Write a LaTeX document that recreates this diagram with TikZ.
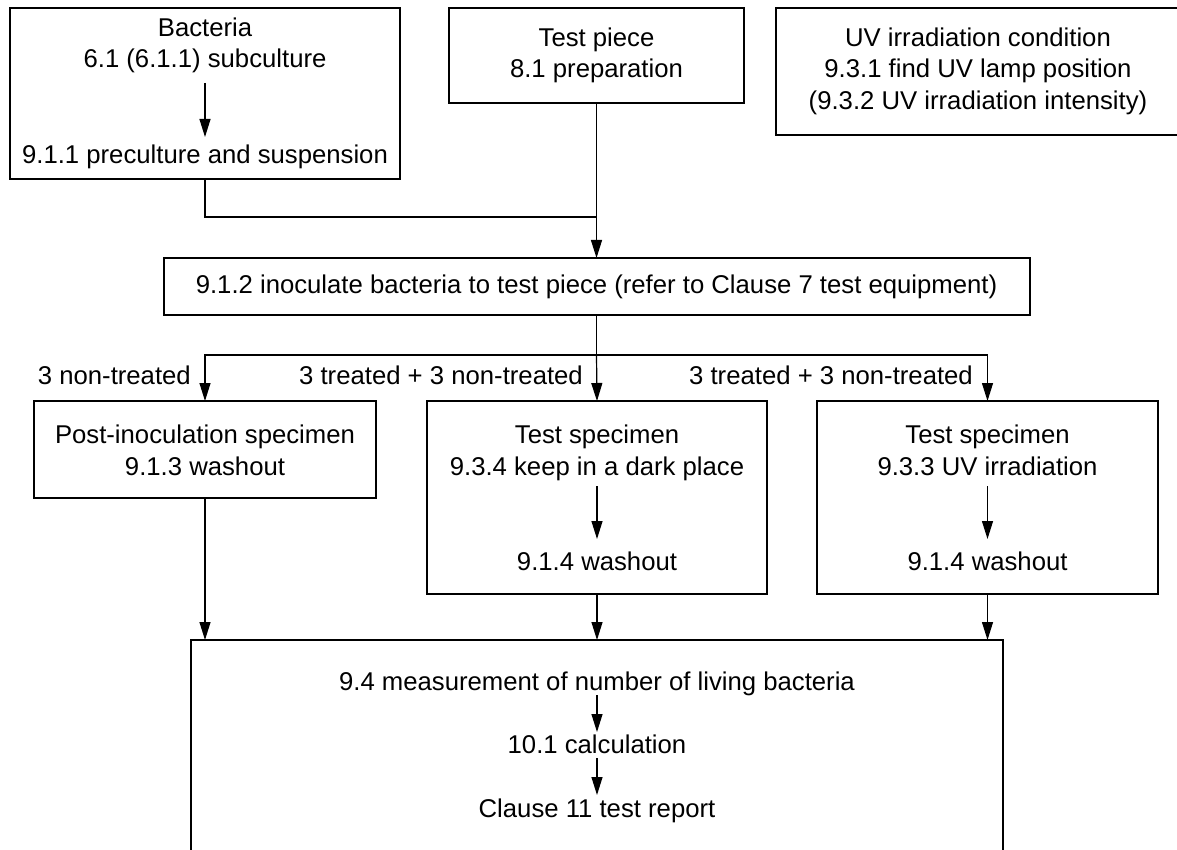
\documentclass[tikz,border=0pt]{standalone}
\usepackage{fontspec}
\setmainfont{Liberation Sans}
\usetikzlibrary{arrows.meta}
\begin{document}
\begin{tikzpicture}[x=1pt,y=-1pt,
  box/.style={draw=black,line width=2pt,inner sep=0pt,outer sep=0pt},
  txt/.style={inner sep=0pt,anchor=base,font=\fontsize{25.7}{31}\selectfont},
  lbl/.style={inner sep=0pt,anchor=base east,font=\fontsize{25.7}{31}\selectfont},
  conn/.style={line width=1.2pt,draw=black},
  arr/.style={conn,-{Triangle[length=18pt,width=11pt]}}]
\useasboundingbox (0,0) rectangle (1177,850);
\clip (0,0) rectangle (1177,850);
% boxes
\node[box,minimum width=390pt,minimum height=171pt] (A) at (205,93.5) {};
\node[box,minimum width=295pt,minimum height=95pt] (B) at (596.5,55.5) {};
\node[box,minimum width=406pt,minimum height=127pt] (C) at (979,71.5) {};
\node[box,minimum width=866pt,minimum height=57pt] (D) at (596.5,286.5) {};
\node[box,minimum width=342pt,minimum height=97pt] (E) at (205,449.5) {};
\node[box,minimum width=340pt,minimum height=193pt] (F) at (597,497.5) {};
\node[box,minimum width=341pt,minimum height=193pt] (G) at (987.5,497.5) {};
\node[box,minimum width=812pt,minimum height=240pt] (H) at (597,760) {};
% texts
\node[txt] (a1) at (205,37) {Bacteria};
\node[txt] (a2) at (205,68) {6.1 (6.1.1) subculture};
\node[txt] (a3) at (205,164) {9.1.1 preculture and suspension};
\node[txt] (b1) at (596.5,47) {Test piece};
\node[txt] (b2) at (596.5,78) {8.1 preparation};
\node[txt] (c1) at (978,47) {UV irradiation condition};
\node[txt] (c2) at (978,78) {9.3.1 find UV lamp position};
\node[txt] (c3) at (978,110) {(9.3.2 UV irradiation intensity)};
\node[txt] (d1) at (596.5,293) {9.1.2 inoculate bacteria to test piece (refer to Clause 7 test equipment)};
\node[txt] (e1) at (205,443) {Post-inoculation specimen};
\node[txt] (e2) at (205,475) {9.1.3 washout};
\node[txt] (f1) at (597,443) {Test specimen};
\node[txt] (f2) at (597,475) {9.3.4 keep in a dark place};
\node[txt] (f3) at (597,570) {9.1.4 washout};
\node[txt] (g1) at (987.5,443) {Test specimen};
\node[txt] (g2) at (987.5,475) {9.3.3 UV irradiation};
\node[txt] (g3) at (987.5,570) {9.1.4 washout};
\node[txt] (h1) at (597,690) {9.4 measurement of number of living bacteria};
\node[txt] (h2) at (597,753) {10.1 calculation};
\node[txt] (h3) at (597,817) {Clause 11 test report};
% coordinates
\coordinate (j) at (596.5,217);
\coordinate (br) at (596.5,355);
% labels
\node[lbl] (l1) at (191,384) {3 non-treated};
\node[lbl] (l2) at (583,384) {3 treated + 3 non-treated};
\node[lbl] (l3) at (973,384) {3 treated + 3 non-treated};
% connectors
\draw[conn] (A.south) |- (j);
\draw[arr] (B.south) -- (D.north);
\draw[conn] (D.south) -- (br);
\draw[arr] (br) -| (E.north);
\draw[arr] (br) -- (F.north);
\draw[arr] (br) -| (G.north);
\draw[arr] (E.south) -- (E.south |- H.north);
\draw[arr] (F.south) -- (F.south |- H.north);
\draw[arr] (G.south) -- (G.south |- H.north);
% inner arrows
\draw[arr] ([yshift=-15pt]a2.base) -- ([yshift=27pt]a3.base);
\draw[arr] ([yshift=-11pt]f2.base) -- ([yshift=31pt]f3.base);
\draw[arr] ([yshift=-11pt]g2.base) -- ([yshift=31pt]g3.base);
\draw[arr] ([yshift=-5pt]h1.base) -- ([yshift=21pt]h2.base);
\draw[arr] ([yshift=-5pt]h2.base) -- ([yshift=22pt]h3.base);
\end{tikzpicture}
\end{document}
